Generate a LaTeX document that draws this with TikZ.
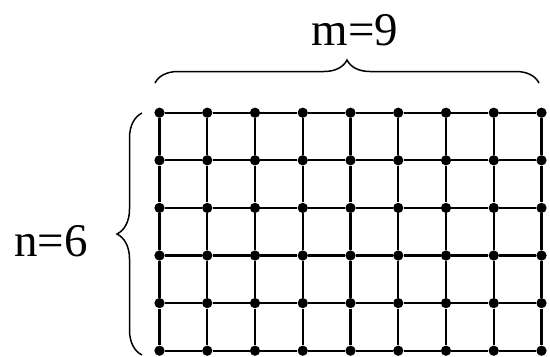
\documentclass[tikz,border=0pt]{standalone}
\usepackage{fontspec}
\setmainfont{Liberation Serif}
\usetikzlibrary{decorations.pathreplacing}

\tikzset{
  vtx/.style={circle,fill=black,inner sep=0pt,minimum size=0.205cm},
  gridline/.style={line width=1.2pt},
  bracket/.style={decorate,line width=0.85pt},
  lbl/.style={font=\fontsize{26.7}{32}\selectfont,inner sep=0pt,anchor=base}
}

\begin{document}
\begin{tikzpicture}[x=0.02cm,y=-0.02cm]
\useasboundingbox (0,0) rectangle (550,356);
% lattice points
\foreach \i in {1,...,9}
  \foreach \j in {1,...,6}
    \node[vtx] (v-\i-\j) at ({159.5+47.75*(\i-1)},{112.7+47.6*(\j-1)}) {};
% rows and columns
\foreach \j in {1,...,6}
  \foreach \i [count=\ii from 2] in {1,...,8}
    \draw[gridline] (v-\i-\j)--(v-\ii-\j);
\foreach \i in {1,...,9}
  \foreach \j [count=\jj from 2] in {1,...,5}
    \draw[gridline] (v-\i-\j)--(v-\i-\jj);
% braces
\coordinate (tl) at (155,83);
\coordinate (tr) at (539,83);
\coordinate (lb) at (142,355);
\coordinate (lt) at (142,113);
\draw[bracket,decoration={brace,amplitude=0.46cm}] (tl)--(tr);
\draw[bracket,decoration={brace,amplitude=0.5cm}] (lb)--(lt);
\node[lbl] (mlab) at (355,45) {m=9};
\node[lbl] (nlab) at (50.8,256.7) {n=6};
\end{tikzpicture}
\end{document}
